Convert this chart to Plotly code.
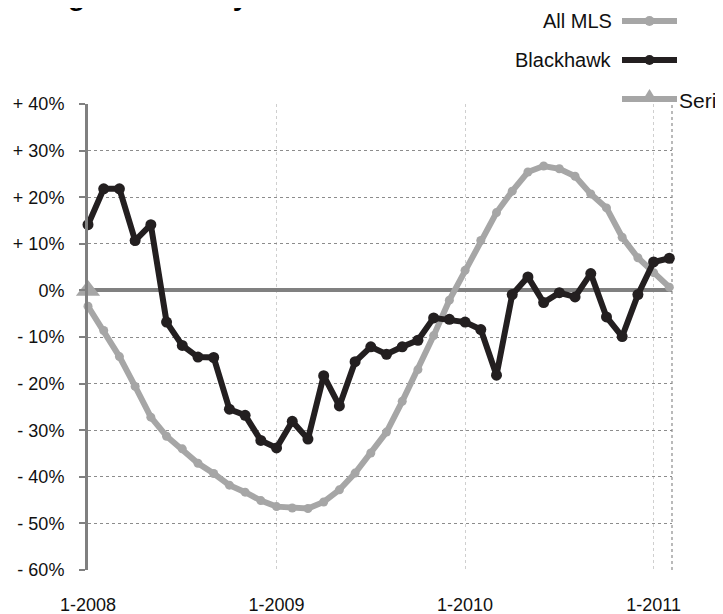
import plotly.graph_objects as go

months = [f"{m}-{y}" for y in (2008, 2009, 2010) for m in range(1, 13)] + ["1-2011", "2-2011"]

all_mls = [-3.4, -8.6, -14.2, -20.6, -27.2, -31.3, -34.0, -37.1, -39.3, -41.8, -43.3, -45.1,
           -46.4, -46.7, -46.8, -45.4, -42.8, -39.2, -34.9, -30.4, -23.8, -17.0, -9.7, -2.1,
           4.3, 10.7, 16.7, 21.3, 25.4, 26.7, 26.1, 24.5, 20.7, 17.7, 11.4, 7.0, 3.8, 0.7]

blackhawk = [14.1, 21.8, 21.8, 10.7, 14.1, -6.8, -11.8, -14.3, -14.4, -25.5, -26.8, -32.2,
             -33.8, -28.1, -31.9, -18.3, -24.8, -15.3, -12.1, -13.7, -12.1, -10.7, -5.9, -6.2,
             -6.8, -8.4, -18.2, -0.9, 2.9, -2.6, -0.5, -1.4, 3.6, -5.7, -9.9, -0.9, 6.1, 6.9]

series3_x = ["1-2008"]
series3 = [0]

y_ticks = [40, 30, 20, 10, 0, -10, -20, -30, -40, -50, -60]
y_labels = ["+ 40%", "+ 30%", "+ 20%", "+ 10%", "0%", "- 10%", "- 20%", "- 30%", "- 40%", "- 50%", "- 60%"]
x_ticks = ["1-2008", "1-2009", "1-2010", "1-2011"]

GRAY = "#a6a6a6"
BLACK = "#231f20"
AXIS = "#808080"
FONT = "Liberation Sans, Arial, Helvetica, sans-serif"

# the page body adds an 8px offset; lay out the figure so the plot lands
# at the reference position (plot area x 88..672, y 104..570 on screen)
OFF = 8
W, H = 723 - OFF, 614 - OFF
L, T = 88 - OFF, 104 - OFF
PW, PH = 584, 466
R, B = W - L - PW, H - T - PH


def xp(px):
    return (px - 88) / PW


def yp(py):
    return (570 - py) / PH


fig = go.Figure()
fig.add_trace(go.Scatter(x=months, y=all_mls, mode="lines+markers", name="All MLS",
                         line=dict(color=GRAY, width=6), marker=dict(color=GRAY, size=9),
                         cliponaxis=False))
fig.add_trace(go.Scatter(x=months, y=blackhawk, mode="lines+markers", name="Blackhawk",
                         line=dict(color=BLACK, width=6), marker=dict(color=BLACK, size=11),
                         cliponaxis=False))
fig.add_trace(go.Scatter(x=series3_x, y=series3, mode="markers", name="Series3",
                         marker=dict(color=GRAY, size=21, symbol="triangle-up"),
                         cliponaxis=False))

shapes = [
    # right border of plot area
    dict(type="line", xref="paper", yref="paper", x0=1, x1=1, y0=0, y1=1,
         line=dict(color="#8c8c8c", width=1.2, dash="dot"), layer="below"),
]
annotations = []

# legend (manual, as in the reference)
legend_items = [("All MLS", GRAY, 21, "circle", "left"),
                ("Blackhawk", BLACK, 60, "circle", "left"),
                ("Series3", GRAY, 99, "triangle", "right")]
for name, col, ypx, sym, side in legend_items:
    shapes.append(dict(type="line", xref="paper", yref="paper", x0=xp(622), x1=xp(677),
                       y0=yp(ypx), y1=yp(ypx), line=dict(color=col, width=6)))
    if sym == "circle":
        shapes.append(dict(type="circle", xref="paper", yref="paper", xsizemode="pixel",
                           ysizemode="pixel", xanchor=xp(649.5), yanchor=yp(ypx),
                           x0=-5, x1=5, y0=-5, y1=5, fillcolor=col, line=dict(width=0)))
    else:
        shapes.append(dict(type="path", xref="paper", yref="paper", xsizemode="pixel",
                           ysizemode="pixel", xanchor=xp(649.5), yanchor=yp(ypx),
                           path="M -8 -3 L 8 -3 L 0 10 Z", fillcolor=col, line=dict(width=0)))
    if side == "left":
        annotations.append(dict(text=name, xref="paper", yref="paper", x=xp(614), y=yp(ypx),
                                xanchor="right", yanchor="middle", showarrow=False,
                                font=dict(family=FONT, size=20, color="#111111")))
    else:
        annotations.append(dict(text=name, xref="paper", yref="paper", x=xp(677), y=yp(ypx + 1),
                                xanchor="left", yanchor="middle", showarrow=False,
                                font=dict(family=FONT, size=21, color="#111111")))

# title, largely cut off by the top edge as in the reference
annotations.append(dict(text="<b>Change in Monthly Sales</b>", xref="paper", yref="paper",
                        x=xp(-4), y=yp(13), xanchor="left", yanchor="bottom", showarrow=False,
                        font=dict(family=FONT, size=28, color="#000000")))

fig.update_layout(
    width=W, height=H,
    margin=dict(l=L, r=R, t=T, b=B, autoexpand=False),
    paper_bgcolor="white", plot_bgcolor="white",
    showlegend=False,
    font=dict(family=FONT, size=18, color="#111111"),
    shapes=shapes, annotations=annotations,
    xaxis=dict(type="category", categoryorder="array", categoryarray=months,
               range=[0, 37.17], tickmode="array", tickvals=x_ticks, ticktext=x_ticks,
               showgrid=True, gridcolor="#cfcfcf", griddash="dot", gridwidth=1,
               showline=False, zeroline=False, ticks="", ticklabelstandoff=22,
               automargin=False,
               tickfont=dict(family=FONT, size=18, color="#111111")),
    yaxis=dict(range=[-60, 40], tickmode="array", tickvals=y_ticks, ticktext=y_labels,
               showgrid=True, gridcolor="#8c8c8c", griddash="dot", gridwidth=1.2,
               showline=True, linecolor=AXIS, linewidth=3, ticks="outside", ticklen=6,
               tickcolor=AXIS, tickwidth=2, ticklabelstandoff=11, automargin=False,
               zeroline=True, zerolinecolor=AXIS, zerolinewidth=4,
               tickfont=dict(family=FONT, size=18, color="#111111")),
)

fig.write_html("out.html")
